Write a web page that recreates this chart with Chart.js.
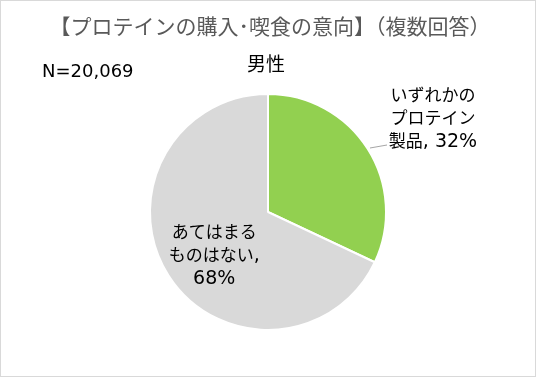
<!DOCTYPE html>
<html>
<head>
<meta charset="utf-8">
<script src="https://cdn.jsdelivr.net/npm/chart.js@4/dist/chart.umd.min.js"></script>
<style>
  html, body { margin: 0; padding: 0; background: #fff; }
  #wrap { width: 536px; height: 377px; }
</style>
</head>
<body>
<div id="wrap"><canvas id="pie" width="536" height="377"></canvas></div>
<script>
const titleText = "【プロテインの購入･喫食の意向】（複数回答）";
const groupLabel = "男性";
const sampleText = "N=20,069";
const categories = ["いずれかのプロテイン製品", "あてはまるものはない"];
const labelLines = [
  ["いずれかの", "プロテイン", "製品, 32%"],
  ["あてはまる", "ものはない,", "68%"]
];
const values = [32, 68];
const colors = ["#92D050", "#D9D9D9"];

const JP = '"Noto Sans CJK JP", sans-serif';
const LAT = '"DejaVu Sans", sans-serif';

// 和文と欧文でサイズを変えて中央揃えで描く（欧文はやや大きめ）
function drawMixed(ctx, text, cx, y, jpSize, latSize) {
  const runs = text.match(/[\u3000-\u9fff\uff00-\uffef]+|[^\u3000-\u9fff\uff00-\uffef]+/g);
  const parts = runs.map(t => {
    const f = /[\u3000-\u9fff\uff00-\uffef]/.test(t) ? jpSize + "px " + JP : latSize + "px " + LAT;
    ctx.font = f;
    return { t, f, w: ctx.measureText(t).width };
  });
  let x = cx - parts.reduce((s, p) => s + p.w, 0) / 2;
  ctx.textAlign = "left";
  ctx.textBaseline = "alphabetic";
  parts.forEach(p => {
    ctx.font = p.f;
    ctx.fillText(p.t, x, y);
    x += p.w;
  });
}

const decoPlugin = {
  id: "deco",
  beforeDraw(chart) {
    const ctx = chart.ctx;
    ctx.save();
    ctx.fillStyle = "#fff";
    ctx.fillRect(0, 0, chart.width, chart.height);
    ctx.restore();
  },
  afterDraw(chart) {
    const ctx = chart.ctx;
    ctx.save();
    // 外枠
    ctx.strokeStyle = "#D9D9D9";
    ctx.lineWidth = 1;
    ctx.strokeRect(0.5, 0.5, chart.width - 1, chart.height - 1);

    ctx.textAlign = "center";
    ctx.textBaseline = "middle";
    ctx.fillStyle = "#595959";
    ctx.font = "21px " + JP;
    ctx.fillText(titleText, 270, 26);

    ctx.fillStyle = "#000";
    ctx.font = "19px " + JP;
    ctx.fillText(groupLabel, 266, 64);

    ctx.textAlign = "left";
    ctx.textBaseline = "alphabetic";
    ctx.font = "18px " + LAT;
    ctx.fillText(sampleText, 42, 77);

    const meta = chart.getDatasetMeta(0);
    // 緑スライス: 外側ラベル + 引き出し線
    const a0 = meta.data[0];
    ctx.strokeStyle = "#A6A6A6";
    ctx.lineWidth = 1;
    ctx.beginPath();
    ctx.moveTo(370, 148);
    ctx.lineTo(387, 145);
    ctx.stroke();

    ctx.fillStyle = "#000";
    labelLines[0].forEach((t, i) => drawMixed(ctx, t, a0.x + 165, 101 + i * 23, 17, 19));

    // 灰色スライス: 内側ラベル
    const a1 = meta.data[1];
    const p = a1.tooltipPosition();
    labelLines[1].forEach((t, i) => drawMixed(ctx, t, p.x - 4, 238 + i * 23, 17, 19));
    ctx.restore();
  }
};

new Chart(document.getElementById("pie"), {
  type: "pie",
  data: {
    labels: categories,
    datasets: [{
      data: values,
      backgroundColor: colors,
      borderColor: "#fff",
      borderWidth: 2
    }]
  },
  options: {
    responsive: false,
    animation: false,
    layout: { padding: { top: 93, bottom: 46, left: 0, right: 0 } },
    plugins: {
      legend: { display: false },
      tooltip: { enabled: false },
      title: { display: false }
    }
  },
  plugins: [decoPlugin]
});
</script>
</body>
</html>
